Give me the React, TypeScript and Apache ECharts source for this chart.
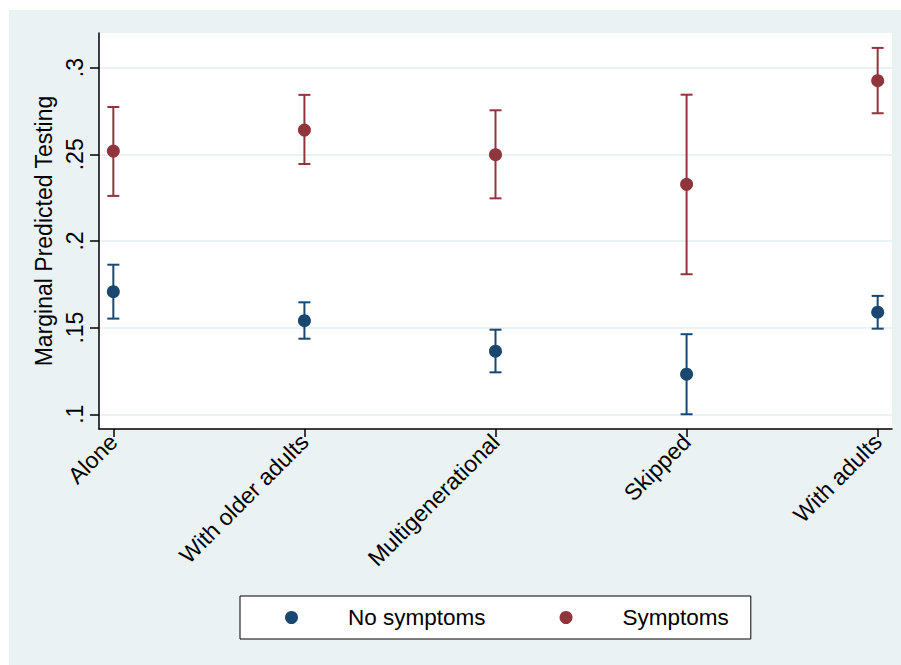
import React, { useEffect, useRef } from "react";
import * as echarts from "echarts";

const categories = ["Alone", "With older adults", "Multigenerational", "Skipped", "With adults"];
const categoryPositions = [1, 2, 3, 4, 5];

const noSymptoms = [0.1707, 0.154, 0.1364, 0.1231, 0.1589];
const noSymptomsLow = [0.1552, 0.1436, 0.1242, 0.1, 0.1494];
const noSymptomsHigh = [0.1863, 0.1646, 0.1488, 0.1462, 0.1683];

const symptoms = [0.2519, 0.264, 0.2498, 0.2327, 0.2925];
const symptomsLow = [0.226, 0.2444, 0.2246, 0.1808, 0.2737];
const symptomsHigh = [0.2773, 0.2843, 0.2754, 0.2844, 0.3114];

const yTicks = [0.1, 0.15, 0.2, 0.25, 0.3];

const BLUE = "#1A476F";
const RED = "#90353B";
const BG = "#EAF2F3";
const FONT = "'Liberation Sans', Arial, Helvetica, sans-serif";

function errorBarSeries(name: string, low: number[], high: number[], color: string) {
  return {
    name,
    type: "custom",
    silent: true,
    z: 3,
    data: categoryPositions.map((x, i) => [x, low[i], high[i]]),
    encode: { x: 0, y: [1, 2] },
    renderItem: (params: any, api: any) => {
      const x = api.value(0);
      const lo = api.coord([x, api.value(1)]);
      const hi = api.coord([x, api.value(2)]);
      const hw = 6;
      const style = { stroke: color, lineWidth: 2 };
      return {
        type: "group",
        children: [
          { type: "line", shape: { x1: lo[0], y1: lo[1], x2: hi[0], y2: hi[1] }, style },
          { type: "line", shape: { x1: lo[0] - hw, y1: lo[1], x2: lo[0] + hw, y2: lo[1] }, style },
          { type: "line", shape: { x1: hi[0] - hw, y1: hi[1], x2: hi[0] + hw, y2: hi[1] }, style },
        ],
      };
    },
  };
}

export default function App() {
  const ref = useRef<HTMLDivElement>(null);
  useEffect(() => {
    if (!ref.current) return;
    const chart = echarts.init(ref.current, undefined, { renderer: "svg" });
    chart.setOption({
      animation: false,
      backgroundColor: "#ffffff",
      textStyle: { fontFamily: FONT },
      graphic: [
        {
          type: "rect",
          z: -10,
          silent: true,
          shape: { x: 9, y: 10, width: 892, height: 655 },
          style: { fill: BG },
        },
      ],
      grid: {
        left: 99,
        top: 33,
        right: 9,
        bottom: 236,
        show: true,
        backgroundColor: "#ffffff",
        borderWidth: 0,
      },
      legend: {
        data: ["No symptoms", "Symptoms"],
        left: 240,
        top: 596,
        orient: "horizontal",
        icon: "circle",
        itemWidth: 13,
        itemHeight: 13,
        itemGap: 74,
        padding: [10, 22, 10, 45],
        borderColor: "#000",
        borderWidth: 1,
        backgroundColor: "#ffffff",
        textStyle: { fontFamily: FONT, fontSize: 22.5, color: "#000", padding: [0, 0, 0, 45] },
      },
      xAxis: {
        type: "value",
        min: 0.925,
        max: 5.075,
        axisLine: { show: true, lineStyle: { color: "#000", width: 1.5 } },
        axisTick: { show: true, length: 8, customValues: categoryPositions, lineStyle: { color: "#000", width: 1.5 } },
        axisLabel: {
          customValues: categoryPositions,
          rotate: 45,
          margin: 9,
          fontSize: 23,
          color: "#000",
          fontFamily: FONT,
          formatter: (v: number) => categories[Math.round(v) - 1] ?? "",
        },
        splitLine: { show: false },
      },
      yAxis: {
        type: "value",
        min: 0.0915,
        max: 0.32,
        name: "Marginal Predicted Testing",
        nameLocation: "middle",
        nameRotate: 90,
        nameGap: 42,
        nameTextStyle: { fontSize: 23, color: "#000", fontFamily: FONT },
        axisLine: { show: true, lineStyle: { color: "#000", width: 1.5 } },
        axisTick: { show: true, length: 9, customValues: yTicks, lineStyle: { color: "#000", width: 1.5 } },
        axisLabel: {
          customValues: yTicks,
          rotate: 90,
          margin: 13,
          fontSize: 23,
          color: "#000",
          fontFamily: FONT,
          formatter: (v: number) => String(Number(v.toFixed(3))).replace(/^0/, ""),
        },
        splitLine: { show: true, lineStyle: { color: BG, width: 2 } },
      },
      series: [
        errorBarSeries("No symptoms CI", noSymptomsLow, noSymptomsHigh, BLUE),
        {
          name: "No symptoms",
          type: "scatter",
          z: 4,
          symbol: "circle",
          symbolSize: 13,
          itemStyle: { color: BLUE, opacity: 1 },
          data: categoryPositions.map((x, i) => [x, noSymptoms[i]]),
        },
        errorBarSeries("Symptoms CI", symptomsLow, symptomsHigh, RED),
        {
          name: "Symptoms",
          type: "scatter",
          z: 4,
          symbol: "circle",
          symbolSize: 13,
          itemStyle: { color: RED, opacity: 1 },
          data: categoryPositions.map((x, i) => [x, symptoms[i]]),
        },
      ],
    });
    return () => chart.dispose();
  }, []);
  return (
    <div
      ref={ref}
      style={{ position: "absolute", left: 0, top: 0, width: 901, height: 665 }}
    />
  );
}
